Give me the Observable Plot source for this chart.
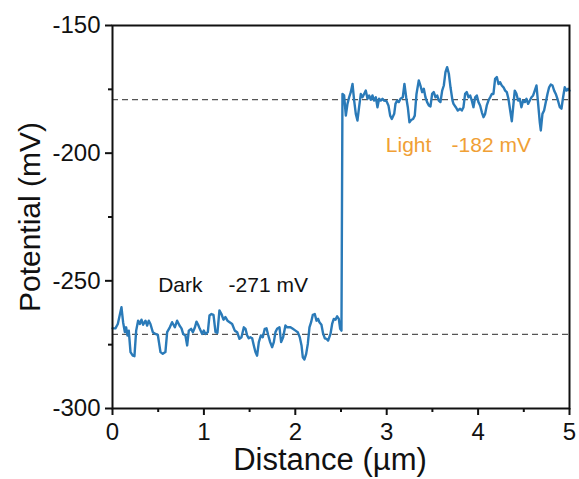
<!DOCTYPE html>
<html>
<head>
<meta charset="utf-8">
<script src="https://cdn.jsdelivr.net/npm/d3@7"></script>
<script src="https://cdn.jsdelivr.net/npm/@observablehq/plot@0.6"></script>
<style>
  html, body { margin: 0; padding: 0; background: #fff; }
  svg { display: block; }
</style>
</head>
<body>
<div id="chart"></div>
<script>
// Surface potential profile: distance (µm) and potential (mV)
const distance = [
  0.00,0.032,0.058,0.098,0.116,0.135,0.149,0.164,0.178,0.197,0.222,0.240,0.259,0.280,0.299,0.317,0.335,0.361,0.379,0.397,0.415,0.441,0.470,0.496,0.525,0.550,0.579,0.598,0.627,
  0.652,0.682,0.707,0.733,0.755,0.773,0.798,0.817,0.835,0.860,0.879,0.900,0.919,0.937,0.955,0.981,0.999,1.017,1.043,1.061,1.083,1.105,1.127,1.148,1.170,1.192,1.214,1.236,1.258,
  1.309,1.338,1.364,1.389,1.411,1.437,1.455,1.473,1.491,1.509,1.528,1.546,1.564,1.582,1.601,1.623,1.644,1.666,1.685,1.703,1.725,1.747,1.765,1.783,1.801,1.827,1.845,1.867,1.892,1.911,
  1.947,1.973,2.002,2.027,2.049,2.068,2.082,2.100,2.119,2.137,2.155,2.173,2.192,2.213,2.232,2.250,2.264,2.286,2.305,2.323,2.341,2.359,2.385,2.403,2.421,2.440,2.458,2.476,2.491,2.505,
  2.516,2.534,2.553,2.571,2.589,2.607,2.626,2.644,2.662,2.680,2.698,2.717,2.735,2.753,2.771,2.790,2.808,2.826,2.844,2.863,2.881,2.899,2.917,2.935,2.954,2.972,2.997,3.019,3.038,3.056,3.082,
  3.096,3.114,3.132,3.151,3.176,3.194,3.213,3.231,3.249,3.267,3.289,3.307,3.326,3.351,3.369,3.388,3.406,3.424,3.442,3.461,3.479,3.497,3.515,3.534,3.552,3.570,3.588,3.607,3.625,3.643,3.661,3.680,3.698,3.720,
  3.731,3.756,3.778,3.803,3.822,3.840,3.858,3.876,3.895,3.913,3.931,3.949,3.968,3.986,4.004,4.022,4.041,4.059,4.077,4.095,4.113,4.132,4.150,4.168,4.186,4.205,4.223,4.241,4.259,4.278,4.296,4.314,4.332,4.351,4.369,
  4.401,4.420,4.438,4.456,4.474,4.493,4.511,4.529,4.547,4.566,4.584,4.602,4.620,4.639,4.657,4.675,4.686,4.704,4.722,4.741,4.759,4.777,4.795,4.814,4.832,4.850,4.868,4.894,4.912,4.930,4.948,4.967,4.985,5.000
];
const potential = [
  -268.6,-268.6,-266.9,-260.3,-266.2,-270.1,-268.2,-271.4,-269.5,-277.9,-279.3,-279.5,-269.5,-265.6,-266.9,-265.2,-267.2,-265.6,-267.5,-265.6,-266.9,-270.1,-270.8,-271.2,-277.9,-278.6,-277.9,-270.1,-268.2,
  -266.2,-268.2,-265.6,-267.5,-268.6,-270.8,-271.4,-275.3,-269.5,-268.8,-270.1,-268.4,-266.0,-267.2,-268.8,-270.8,-269.5,-270.8,-270.1,-263.6,-263.0,-263.3,-270.1,-270.4,-261.6,-263.0,-265.2,-264.2,-265.6,
  -266.9,-269.5,-270.1,-272.7,-272.1,-268.2,-268.8,-271.4,-272.5,-272.1,-272.5,-275.3,-277.9,-279.3,-274.0,-271.4,-272.1,-268.8,-268.6,-271.2,-274.0,-276.0,-274.0,-270.1,-268.8,-268.2,-274.0,-272.1,-267.5,-268.2,
  -268.2,-268.8,-269.5,-270.1,-272.1,-275.3,-279.9,-280.8,-278.6,-274.7,-268.2,-266.2,-263.3,-263.0,-265.6,-264.9,-266.2,-267.2,-270.8,-272.5,-272.7,-273.4,-270.8,-266.9,-264.9,-265.2,-263.9,-264.9,-268.8,-269.5,
  -176.8,-177.4,-185.3,-180.7,-178.1,-176.1,-172.9,-179.4,-184.6,-187.2,-182.0,-176.8,-178.1,-176.8,-175.5,-178.7,-177.4,-179.1,-177.4,-179.4,-178.1,-182.0,-178.7,-179.4,-178.7,-179.4,-179.6,-181.3,-185.3,-186.6,-184.6,
  -180.7,-179.4,-180.0,-178.7,-178.1,-172.9,-178.1,-182.0,-187.9,-187.0,-186.6,-185.3,-176.8,-171.5,-173.5,-176.1,-174.8,-178.1,-180.0,-181.3,-181.7,-176.8,-176.1,-178.1,-177.4,-179.4,-180.0,-175.5,-173.5,-168.3,-166.3,-168.9,-174.2,-179.4,
  -180.7,-182.0,-183.3,-182.6,-183.3,-182.0,-176.8,-176.1,-178.1,-177.4,-179.4,-182.0,-178.1,-177.4,-180.0,-181.3,-184.0,-185.9,-184.6,-181.3,-179.4,-178.1,-176.8,-176.8,-170.9,-170.2,-172.9,-172.2,-173.5,-174.2,-175.5,-176.1,-178.7,-183.3,-187.5,
  -175.5,-176.8,-179.4,-178.7,-182.0,-179.4,-180.0,-178.7,-180.7,-179.4,-178.1,-177.4,-175.5,-173.5,-180.7,-187.9,-191.1,-184.6,-183.3,-180.0,-176.8,-174.2,-173.1,-173.5,-175.5,-176.8,-178.7,-182.0,-182.6,-178.1,-174.2,-175.5,-174.8,-175.5
];
const refLevels = [-179, -271];
const xMajorTicks = [0, 1, 2, 3, 4, 5];
const xMinorTicks = [0.5, 1.5, 2.5, 3.5, 4.5];
const yMajorTicks = [-300, -250, -200, -150];
const yMinorTicks = [-275, -225, -175];
const labelNames = ["Dark", "-271 mV", "Light", "-182 mV"];
const labelX = [0.50, 1.27, 2.99, 3.71];
const labelY = [-251.8, -251.8, -197, -197];
const labelColors = ["#111111", "#111111", "#f0a035", "#f0a035"];
const xLabel = "Distance (µm)";
const yLabel = "Potential (mV)";

const profile = distance.map((d, i) => ({x: d, y: potential[i]}));
const labels = labelNames.map((t, i) => ({t, x: labelX[i], y: labelY[i], c: labelColors[i]}));

const chart = Plot.plot({
  width: 579,
  height: 479,
  marginLeft: 112,
  marginRight: 10,
  marginTop: 25,
  marginBottom: 71,
  style: {fontFamily: "'Liberation Sans', Arial, sans-serif", color: "#111", background: "#fff"},
  x: {domain: [0, 5]},
  y: {domain: [-300, -150]},
  marks: [
    Plot.ruleY(refLevels, {stroke: "#555", strokeWidth: 1.2, strokeDasharray: "6,4"}),
    Plot.line(profile, {x: "x", y: "y", stroke: "#2a7ab8", strokeWidth: 2.4}),
    Plot.text(labels, {x: "x", y: "y", text: "t", fill: "c", textAnchor: "start", fontSize: 21}),
    Plot.axisX({ticks: xMajorTicks, tickSize: 7, tickPadding: 7, fontSize: 24, tickFormat: d => String(d), label: null, strokeWidth: 2}),
    Plot.axisX({ticks: xMinorTicks, tickSize: 4, text: null, label: null, strokeWidth: 2}),
    Plot.axisY({ticks: yMajorTicks, tickSize: 7, tickPadding: 5, fontSize: 24, tickFormat: d => String(d), label: null, strokeWidth: 2}),
    Plot.axisY({ticks: yMinorTicks, tickSize: 4, text: null, label: null, strokeWidth: 2}),
    Plot.frame({stroke: "#111", strokeWidth: 2}),
    Plot.text([yLabel], {frameAnchor: "left", dx: -82, rotate: -90, textAnchor: "middle", lineAnchor: "middle", fontSize: 30, fill: "#111"}),
    Plot.text([xLabel], {frameAnchor: "bottom", dy: 52, dx: -11, textAnchor: "middle", lineAnchor: "middle", fontSize: 31, fill: "#111"})
  ]
});
document.getElementById("chart").appendChild(chart);
</script>
</body>
</html>
